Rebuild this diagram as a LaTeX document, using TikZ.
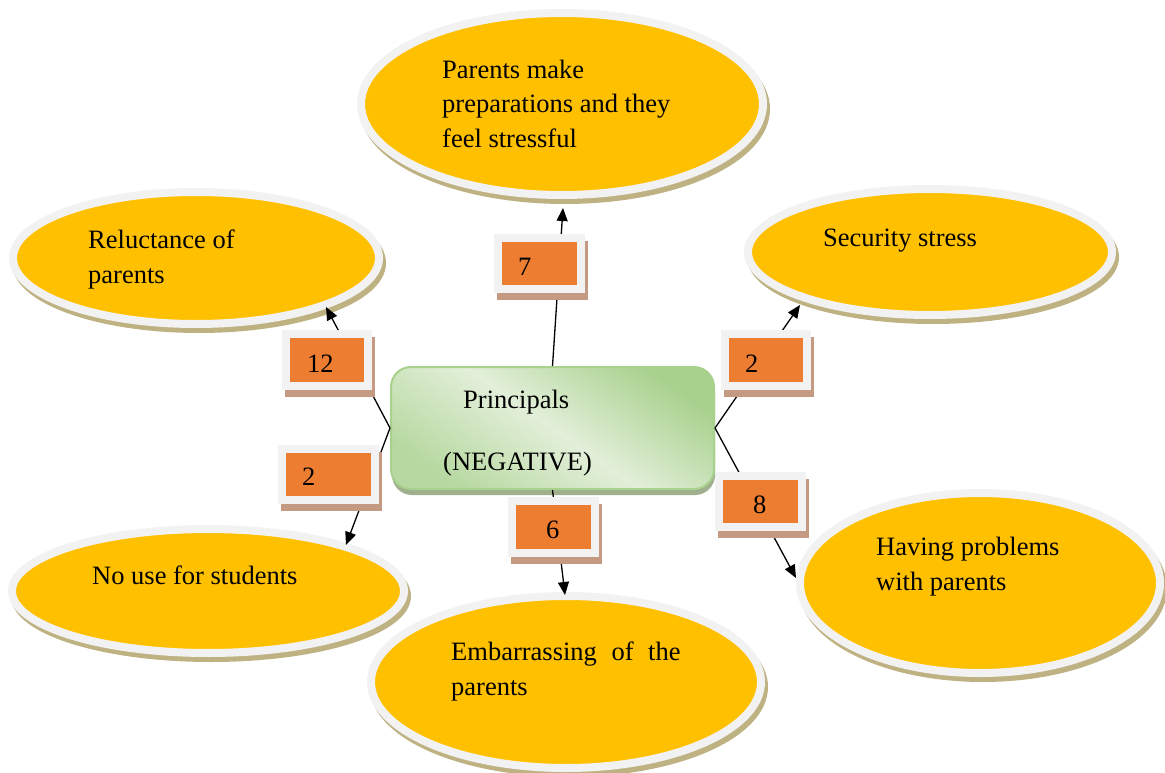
\documentclass[tikz,border=0pt]{standalone}
\usepackage{fontspec}
\setmainfont{Liberation Serif}
\usetikzlibrary{shapes.geometric,arrows.meta,shadows}
\definecolor{bubblefill}{HTML}{FFC000}
\definecolor{rim}{HTML}{F2F2F2}
\definecolor{bubbleshadow}{HTML}{BFB282}
\definecolor{numfill}{HTML}{ED7D31}
\definecolor{numshadow}{HTML}{C49B82}
\definecolor{greenedge}{HTML}{A9D18E}
\definecolor{greenlight}{HTML}{E2EFD9}
\definecolor{greenshadow}{HTML}{A0AF8E}
\begin{document}
\begin{tikzpicture}[x=1pt,y=-1pt,
  font=\fontsize{26.5}{35}\selectfont,
  bubble/.style={ellipse, fill=bubblefill, draw=rim, line width=8pt, inner sep=0pt,
    drop shadow={shadow xshift=3pt, shadow yshift=-5pt, fill=bubbleshadow, draw=bubbleshadow, line width=8pt, opacity=1}},
  numbox/.style={rectangle, fill=numfill, draw=rim, line width=8pt, inner sep=0pt,
    drop shadow={shadow xshift=3pt, shadow yshift=-7pt, fill=numshadow, draw=numshadow, line width=8pt, opacity=1}},
  centerbox/.style={rectangle, rounded corners=20pt, draw=greenedge, line width=2pt, inner sep=0pt,
    top color=greenedge, bottom color=greenedge!75!greenlight, middle color=greenlight, shading angle=-35,
    drop shadow={shadow xshift=1pt, shadow yshift=-6pt, fill=greenshadow, opacity=1}},
  txt/.style={anchor=base west, inner sep=0pt, align=left},
  link/.style={line width=1.3pt, -{Triangle[length=13pt,width=11pt]}}
]
\useasboundingbox (0,0) rectangle (1165,773);

% bubbles
\node[bubble, minimum width=402pt, minimum height=182pt] (eTop) at (562,104) {};
\node[bubble, minimum width=364pt, minimum height=126pt] (eSec) at (930,252) {};
\node[bubble, minimum width=360pt, minimum height=180pt] (eHav) at (980,583) {};
\node[bubble, minimum width=392pt, minimum height=124pt] (eNo) at (208,591) {};
\node[bubble, minimum width=390pt, minimum height=172pt] (eEmb) at (566,682) {};
\node[bubble, minimum width=366pt, minimum height=132pt] (eRel) at (196,258) {};

% centre
\node[centerbox, minimum width=323pt, minimum height=122pt] (c) at (552.5,428) {};

% arrow ends
\coordinate (tTop) at (563,208);
\coordinate (tSec) at (800,305);
\coordinate (tHav) at (796,578);
\coordinate (tNo) at (346,545);
\coordinate (tEmb) at (565,595);
\coordinate (tRel) at (326,307);

\draw[link] (c.north) -- (tTop);
\draw[link] (c.south) -- (tEmb);
\draw[link] (c.west) -- (tRel);
\draw[link] (c.west) -- (tNo);
\draw[link] (c.east) -- (tSec);
\draw[link] (c.east) -- (tHav);

% number boxes
\node[numbox, minimum width=83pt, minimum height=51pt] (n7) at (539.5,263.5) {};
\node[numbox, minimum width=82pt, minimum height=52pt] (n12) at (327,360) {};
\node[numbox, minimum width=93pt, minimum height=51pt] (n2l) at (328.5,474.5) {};
\node[numbox, minimum width=82pt, minimum height=52pt] (n2r) at (766,360) {};
\node[numbox, minimum width=83pt, minimum height=51pt] (n8) at (760.5,501.5) {};
\node[numbox, minimum width=83pt, minimum height=52pt] (n6) at (553.5,527) {};

\node[txt] (l7) at (518,275) {7};
\node[txt] (l12) at (307,372) {12};
\node[txt] (l2l) at (302,485) {2};
\node[txt] (l2r) at (745,372) {2};
\node[txt] (l8) at (753,513) {8};
\node[txt] (l6) at (546,538) {6};

% texts (multi-line nodes: base is the last line)
\node[txt] (xTop) at (442,148) {Parents make\\preparations and they\\feel stressful};
\node[txt] (xSec) at (823,246) {Security stress};
\node[txt] (xHav) at (876,590) {Having problems\\with parents};
\node[txt] (xNo) at (92,584) {No use for students};
\node[txt] (xEmb) at (451,695) {Embarrassing\hspace{8pt} of\hspace{8pt} the\\parents};
\node[txt] (xRel) at (88,283) {Reluctance of\\parents};
\node[txt] (xP) at (463,408) {Principals};
\node[txt] (xN) at (443,470) {(NEGATIVE)};
\end{tikzpicture}
\end{document}
